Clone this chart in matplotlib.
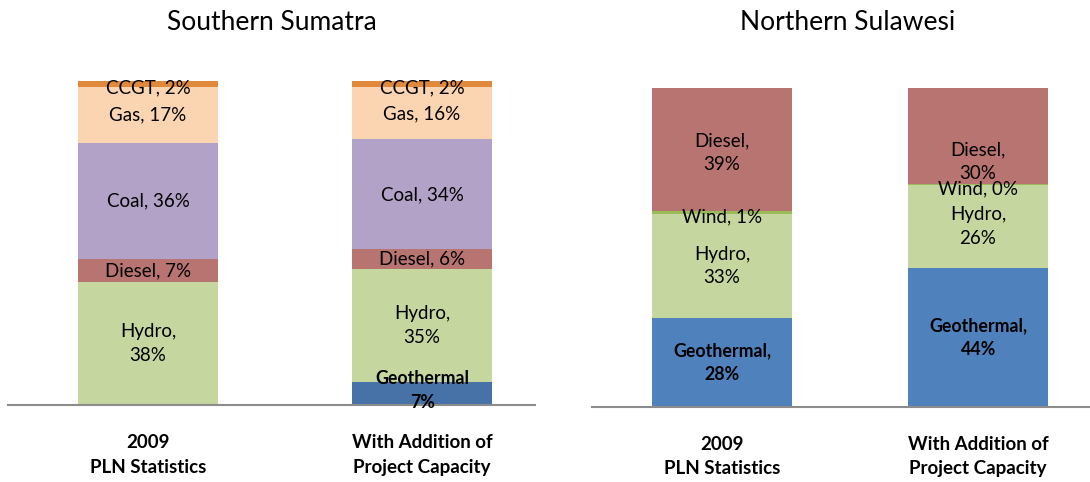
import matplotlib
matplotlib.use("Agg")
import matplotlib.pyplot as plt

plt.rcParams['font.family'] = ['Lato', 'DejaVu Sans']

categories = ['2009\nPLN Statistics', 'With Addition of\nProject Capacity']

# Southern Sumatra (bottom to top)
sum_sources = ['Hydro', 'Diesel', 'Coal', 'Gas', 'CCGT']
sum_2009 = [38, 7, 36, 17, 2]
sum_proj_geo = 7
sum_proj = [35, 6, 34, 16, 2]
sum_labels_2009 = ['Hydro,\n38%', 'Diesel, 7%', 'Coal, 36%', 'Gas, 17%', 'CCGT, 2%']
sum_labels_proj = ['Hydro,\n35%', 'Diesel, 6%', 'Coal, 34%', 'Gas, 16%', 'CCGT, 2%']

# Northern Sulawesi (bottom to top)
sul_sources = ['Geothermal', 'Hydro', 'Wind', 'Diesel']
sul_2009 = [27.8, 32.8, 0.8, 38.6]
sul_proj = [43.6, 26.0, 0.4, 30.0]
sul_labels_2009 = ['Geothermal,\n28%', 'Hydro,\n33%', 'Wind, 1%', 'Diesel,\n39%']
sul_labels_proj = ['Geothermal,\n44%', 'Hydro,\n26%', 'Wind, 0%', 'Diesel,\n30%']

colors = {'CCGT': '#E0883C', 'Gas': '#FBD4B2', 'Coal': '#B2A2C8',
          'Diesel': '#B87471', 'Hydro': '#C5D79F', 'Wind': '#9BBB59',
          'Geothermal': '#4F81BD'}

W, H = 1090, 482
fig = plt.figure(figsize=(W / 100, H / 100), dpi=100)


def px_axes(x0, x1, ytop, ybot):
    return fig.add_axes([x0 / W, 1 - ybot / H, (x1 - x0) / W, (ybot - ytop) / H])


def style(ax, xlim):
    ax.set_xlim(*xlim)
    ax.set_ylim(0, 100)
    for s in ['top', 'right', 'left']:
        ax.spines[s].set_visible(False)
    ax.spines['bottom'].set_color('#8C8C8C')
    ax.spines['bottom'].set_linewidth(1.5)
    ax.set_yticks([])
    ax.set_xticks([])


def stack(ax, x, width, values, names, labels, bold=(), offsets=None, geo_color=None):
    bottom = 0
    for i, (v, n, lab) in enumerate(zip(values, names, labels)):
        c = colors[n]
        if n == 'Geothermal' and geo_color:
            c = geo_color
        ax.bar(x, v, width, bottom=bottom, color=c, linewidth=0)
        dy = offsets.get(i, 0) if offsets else 0
        ax.text(x, bottom + v / 2 + dy, lab, ha='center', va='center',
                fontsize=13.5 if n not in bold else 12.8,
                fontweight='bold' if n in bold else 'normal',
                linespacing=1.45, clip_on=False, zorder=5)
        bottom += v


# left panel
axl = px_axes(8, 535, 81, 405)
wl = 140 / 274
style(axl, (-0.511, 1.412))
stack(axl, 0, wl, sum_2009, sum_sources, sum_labels_2009, offsets={4: -1.2})
stack(axl, 1, wl, [sum_proj_geo] + sum_proj, ['Geothermal'] + sum_sources,
      ['Geothermal\n7%'] + sum_labels_proj, bold=('Geothermal',),
      offsets={0: 1.0, 5: -1.2}, geo_color='#4672A8')

# right panel
axr = px_axes(592, 1090, 88, 407)
wr = 140 / 256
style(axr, (-0.508, 1.4375))
stack(axr, 0, wr, sul_2009, sul_sources, sul_labels_2009, bold=('Geothermal',),
      offsets={2: -1.5, 3: -1.0})
stack(axr, 1, wr, sul_proj, sul_sources, sul_labels_proj, bold=('Geothermal',),
      offsets={2: -1.3, 3: -8.2})

# category labels
for ax, xs in [(axl, (0, 1)), (axr, (0, 1))]:
    for x, cat in zip(xs, categories):
        ax.text(x, -0.09, cat, transform=ax.get_xaxis_transform(), ha='center',
                va='top', fontsize=13.5, fontweight='bold', linespacing=1.55)

fig.text(272 / W, 1 - 23 / H, 'Southern Sumatra', ha='center', va='center', fontsize=19)
fig.text(848 / W, 1 - 23 / H, 'Northern Sulawesi', ha='center', va='center', fontsize=19)

fig.savefig('out.png', dpi=100, facecolor='white')
